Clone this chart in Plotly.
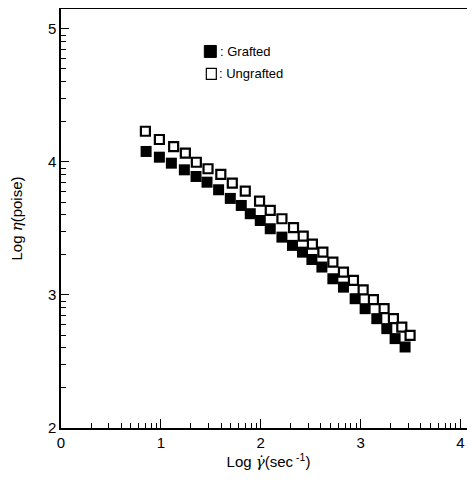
import numpy as np
import plotly.graph_objects as go

# Log shear rate (x) and Log viscosity (y)
grafted_x = [0.852, 0.985, 1.105, 1.235, 1.352, 1.462, 1.578, 1.695, 1.805, 1.895,
             1.995, 2.095, 2.212, 2.318, 2.418, 2.512, 2.612, 2.722, 2.828, 2.945,
             3.045, 3.162, 3.262, 3.345, 3.445]
grafted_y = [4.079, 4.036, 3.991, 3.941, 3.891, 3.848, 3.791, 3.726, 3.673, 3.611,
             3.560, 3.498, 3.435, 3.373, 3.322, 3.267, 3.210, 3.122, 3.059, 2.972,
             2.897, 2.822, 2.747, 2.672, 2.609]

ungrafted_x = [0.845, 0.985, 1.128, 1.245, 1.355, 1.472, 1.600, 1.715, 1.845, 1.988,
               2.095, 2.212, 2.328, 2.425, 2.517, 2.622, 2.722, 2.828, 2.928, 3.025,
               3.128, 3.235, 3.328, 3.412, 3.495]
ungrafted_y = [4.231, 4.169, 4.116, 4.066, 3.998, 3.949, 3.906, 3.841, 3.781, 3.705,
               3.636, 3.573, 3.506, 3.442, 3.383, 3.322, 3.247, 3.172, 3.110, 3.038,
               2.965, 2.897, 2.822, 2.759, 2.696]

x_major = [0, 1, 2, 3, 4]
y_major = [2, 3, 4, 5]
x_range = [0, 4.155]
y_range = [2, 5.15]

def log_minor(decades, lo, hi):
    vals = []
    for d in decades:
        for k in range(2, 10):
            v = d + np.log10(k)
            if lo < v < hi:
                vals.append(float(v))
    return vals

x_minor = log_minor(x_major, *x_range)
y_minor = log_minor(y_major, *y_range)

FONT = "Liberation Sans, Arial, sans-serif"

fig = go.Figure()
fig.add_trace(go.Scatter(
    x=grafted_x, y=grafted_y, mode="markers", name="Grafted",
    marker=dict(symbol="square", size=11, color="black",
                line=dict(color="black", width=0)),
    showlegend=False))
fig.add_trace(go.Scatter(
    x=ungrafted_x, y=ungrafted_y, mode="markers", name="Ungrafted",
    marker=dict(symbol="square", size=9, color="white",
                line=dict(color="black", width=2.2)),
    showlegend=False))

OFF = 8  # page body offset
W, H = 475, 490
L, R, T, B = 60.5 - OFF, W - (476 - OFF), 8.5 - OFF, H - (428 - OFF)
pw, ph = W - L - R, H - T - B

def px_x(p):
    return (p - OFF - L) / pw

def px_y(p):
    return 1 - (p - OFF - T) / ph

# legend keys
fig.add_shape(type="rect", xref="paper", yref="paper",
              x0=px_x(204), x1=px_x(216), y0=px_y(57), y1=px_y(45),
              fillcolor="black", line=dict(color="black", width=1))
fig.add_shape(type="rect", xref="paper", yref="paper",
              x0=px_x(206), x1=px_x(216), y0=px_y(79), y1=px_y(68),
              fillcolor="white", line=dict(color="black", width=1.2))
fig.add_annotation(x=px_x(218), y=px_y(51), xref="paper", yref="paper",
                   text=": Grafted", showarrow=False, xanchor="left", yanchor="middle",
                   font=dict(family=FONT, size=13, color="black"))
fig.add_annotation(x=px_x(217), y=px_y(73.5), xref="paper", yref="paper",
                   text=": Ungrafted", showarrow=False, xanchor="left", yanchor="middle",
                   font=dict(family=FONT, size=13, color="black"))

fig.update_layout(
    width=W, height=H,
    margin=dict(l=L, r=R, t=T, b=B, autoexpand=False),
    plot_bgcolor="white", paper_bgcolor="white",
    font=dict(family=FONT, size=14, color="black"),
    xaxis=dict(
        range=x_range, tickmode="array", tickvals=x_major, automargin=False,
        ticks="inside", ticklen=9, tickwidth=1.2, tickcolor="black",
        showline=True, linecolor="black", linewidth=1.5, mirror=True,
        showgrid=False, zeroline=False,
        minor=dict(tickmode="array", tickvals=x_minor, ticks="inside",
                   ticklen=5, tickwidth=1, tickcolor="black", showgrid=False),
        tickfont=dict(size=15),
        title=dict(text="Log <span style=\"font-family:'DejaVu Serif'\"><i>γ̇</i></span>(sec<sup> -1</sup>)",
                   font=dict(size=15), standoff=6),
    ),
    yaxis=dict(
        range=y_range, tickmode="array", tickvals=y_major, automargin=False,
        ticks="inside", ticklen=8, tickwidth=1.2, tickcolor="black",
        showline=True, linecolor="black", linewidth=1.5, mirror=False,
        showgrid=False, zeroline=False,
        minor=dict(tickmode="array", tickvals=y_minor, ticks="inside",
                   ticklen=5, tickwidth=1, tickcolor="black", showgrid=False),
        tickfont=dict(size=15),
        title=dict(text="Log <span style=\"font-family:'DejaVu Serif'\"><i>η</i></span>(poise)",
                   font=dict(size=15), standoff=24),
    ),
)

fig.write_html("out.html")
